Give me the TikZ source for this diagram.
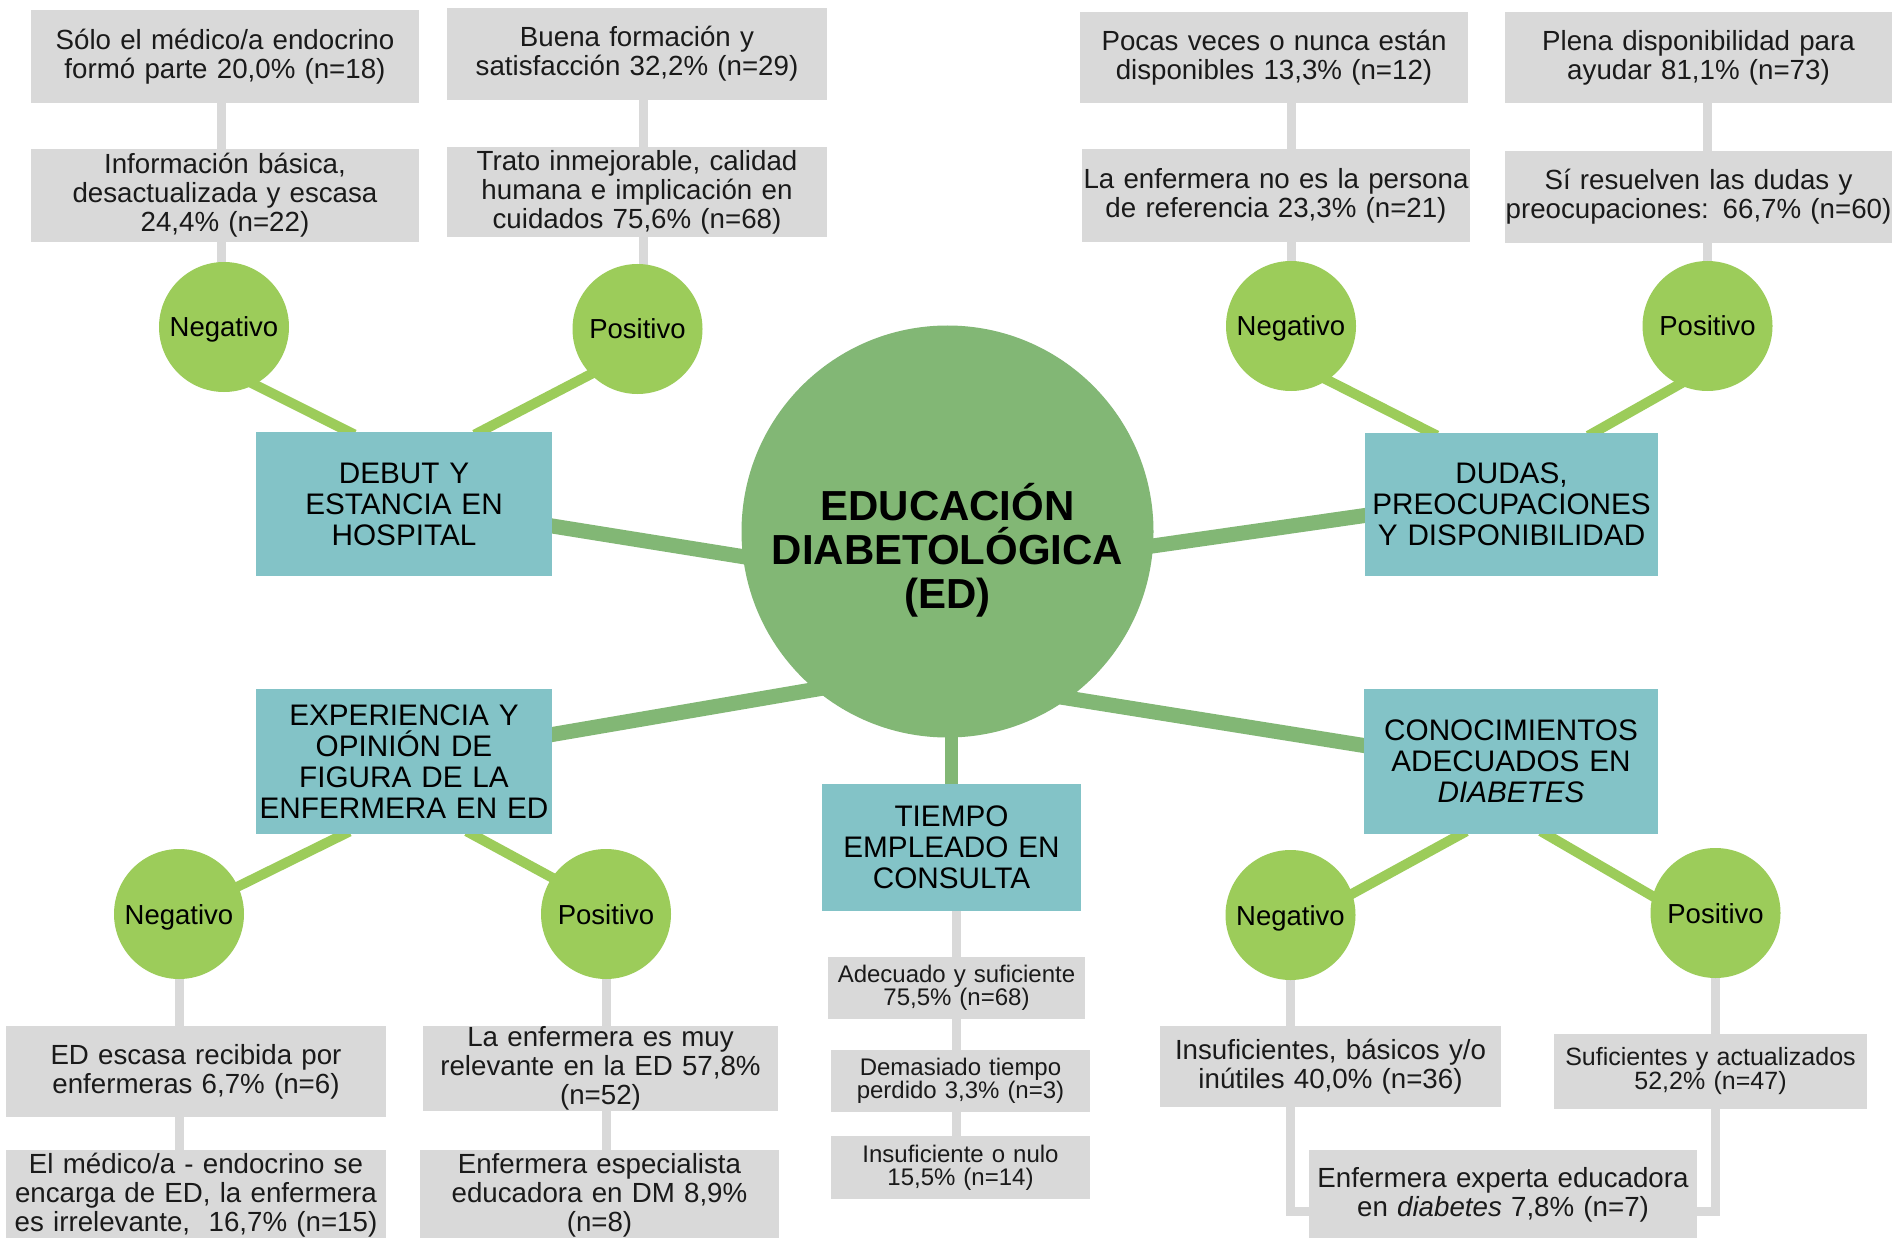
\documentclass[tikz,border=0pt]{standalone}
\usepackage{fontspec}
\setmainfont{Liberation Sans}
\usetikzlibrary{backgrounds,calc}
\definecolor{hubgreen}{HTML}{82B775}
\definecolor{lgreen}{HTML}{9CCC5A}
\definecolor{topicteal}{HTML}{83C3C7}
\definecolor{boxgray}{HTML}{D9D9D9}
\definecolor{txt}{HTML}{1A1A1A}
\tikzset{
  infobox/.style={fill=boxgray, inner sep=0pt, align=center, text=txt, font=\fontsize{27.7}{29}\selectfont},
  smallinfo/.style={infobox, font=\fontsize{24}{23}\selectfont},
  topicbox/.style={fill=topicteal, inner sep=0pt, align=center, text=black, font=\fontsize{29.7}{31}\selectfont},
  valbubble/.style={circle, fill=lgreen, minimum size=130pt, inner sep=0pt, text height=20pt, text depth=0pt, font=\fontsize{27.5}{29}\selectfont, text=black},
  hubcircle/.style={circle, fill=hubgreen, minimum size=412pt, inner sep=0pt},
  hubtext/.style={align=center, inner sep=0pt, text=black, font=\bfseries\fontsize{42}{44}\selectfont},
  hublink/.style={draw=hubgreen, line width=15pt, shorten <=-8pt, shorten >=-8pt},
  sublink/.style={draw=lgreen, line width=10pt, shorten <=-6pt, shorten >=-6pt},
  graylink/.style={draw=boxgray, line width=9pt},
}
\begin{document}
\begin{tikzpicture}[x=1pt,y=-1pt]
\useasboundingbox (0,0) rectangle (1892,1238);

% hub
\node[hubcircle] (hub) at (947.5,531.5) {};
\node[hubtext] (hubtxt) at (947.5,550) {EDUCACIÓN\\DIABETOLÓGICA\\(ED)};

% topics
\node[topicbox, text width=296pt, minimum height=144pt] (DEBUT) at (404,504) {DEBUT Y\\ESTANCIA EN\\HOSPITAL};
\node[topicbox, text width=293pt, minimum height=143pt] (DUDAS) at (1511.5,504.5) {DUDAS,\\PREOCUPACIONES\\Y DISPONIBILIDAD};
\node[topicbox, text width=296pt, minimum height=145pt] (EXP) at (404,761.5) {EXPERIENCIA Y\\OPINIÓN DE\\FIGURA DE LA\\ENFERMERA EN ED};
\node[topicbox, text width=294pt, minimum height=145pt] (CONOC) at (1511,761.5) {CONOCIMIENTOS\\ADECUADOS EN\\\textit{DIABETES}};
\node[topicbox, text width=259pt, minimum height=127pt] (TIEMPO) at (951.5,847.5) {TIEMPO\\EMPLEADO EN\\CONSULTA};

% value bubbles
\node[valbubble] (negTL) at (224,327) {Negativo};
\node[valbubble] (posTL) at (637.5,329) {Positivo};
\node[valbubble] (negTR) at (1291,326) {Negativo};
\node[valbubble] (posTR) at (1707.5,326) {Positivo};
\node[valbubble] (negBL) at (179,914) {Negativo};
\node[valbubble] (posBL) at (606,914) {Positivo};
\node[valbubble] (negBR) at (1290.5,915) {Negativo};
\node[valbubble] (posBR) at (1715.5,913) {Positivo};

% info boxes top-left
\node[infobox, text width=388pt, minimum height=93pt] (A1) at (225,56.5) {Sólo el médico/a endocrino\\formó parte 20,0\% (n=18)};
\node[infobox, text width=388pt, minimum height=93pt] (A2) at (225,195.5) {Información básica,\\desactualizada y escasa\\24,4\% (n=22)};
\node[infobox, text width=380pt, minimum height=92pt] (B1) at (637,54) {Buena formación y\\satisfacción 32,2\% (n=29)};
\node[infobox, text width=380pt, minimum height=90pt] (B2) at (637,192) {Trato inmejorable, calidad\\humana e implicación en\\cuidados 75,6\% (n=68)};

% info boxes top-right
\node[infobox, text width=388pt, minimum height=91pt] (C1) at (1274,57.5) {Pocas veces o nunca están\\disponibles 13,3\% (n=12)};
\node[infobox, text width=388pt, minimum height=93pt] (C2) at (1276,195.5) {La enfermera no es la persona\\de referencia 23,3\% (n=21)};
\node[infobox, text width=387pt, minimum height=91pt] (D1) at (1698.5,57.5) {Plena disponibilidad para\\ayudar 81,1\% (n=73)};
\node[infobox, text width=387pt, minimum height=92pt] (D2) at (1698.5,197) {Sí resuelven las dudas y\\preocupaciones: 66,7\% (n=60)};

% info boxes bottom-left
\node[infobox, text width=380pt, minimum height=91pt] (E1) at (196,1071.5) {ED escasa recibida por\\enfermeras 6,7\% (n=6)};
\node[infobox, text width=380pt, minimum height=90pt] (E2) at (196,1195) {El médico/a - endocrino se\\encarga de ED, la enfermera\\es irrelevante,\ \ 16,7\% (n=15)};
\node[infobox, text width=355pt, minimum height=85pt] (F1) at (600.5,1068.5) {La enfermera es muy\\relevante en la ED 57,8\%\\(n=52)};
\node[infobox, text width=359pt, minimum height=90pt] (F2) at (599.5,1195) {Enfermera especialista\\educadora en DM 8,9\%\\(n=8)};

% info boxes time
\node[smallinfo, text width=257pt, minimum height=62pt] (G1) at (956.5,988) {Adecuado y suficiente\\75,5\% (n=68)};
\node[smallinfo, text width=259pt, minimum height=62pt] (G2) at (960.5,1081) {Demasiado tiempo\\perdido 3,3\% (n=3)};
\node[smallinfo, text width=259pt, minimum height=63pt] (G3) at (960.5,1167.5) {Insuficiente o nulo\\15,5\% (n=14)};

% info boxes bottom-right
\node[infobox, text width=341pt, minimum height=81pt] (H1) at (1330.5,1066.5) {Insuficientes, básicos y/o\\inútiles 40,0\% (n=36)};
\node[infobox, text width=388pt, minimum height=90pt] (H2) at (1503,1195) {Enfermera experta educadora\\en \textit{diabetes} 7,8\% (n=7)};
\node[infobox, font=\fontsize{25}{24}\selectfont, text width=313pt, minimum height=75pt] (I1) at (1710.5,1071.5) {Suficientes y actualizados\\52,2\% (n=47)};

\begin{scope}[on background layer]
\fill[white] (0,0) rectangle (1892,1238);
% hub links
\draw[hublink] ([yshift=-22pt]DEBUT.east) -- (hub.187);
\draw[hublink] ([yshift=-11pt]DUDAS.west) -- (hub.-4);
\draw[hublink] ([yshift=27pt]EXP.east) -- (hub.230);
\draw[hublink] ([yshift=16pt]CONOC.west) -- (hub.-54);
\draw[hublink, line width=13pt] (TIEMPO.north |- hub.center) -- (TIEMPO.north);
% sub links
\draw[sublink] ([xshift=-55pt]DEBUT.north) -- (negTL.-62);
\draw[sublink] ([xshift=76pt]DEBUT.north) -- (posTL.224);
\draw[sublink] ([xshift=-80pt]DUDAS.north) -- (negTR.-56);
\draw[sublink] ([xshift=82pt]DUDAS.north) -- (posTR.244);
\draw[sublink] ([xshift=-60pt]EXP.south) -- (negBL.25);
\draw[sublink] ([xshift=68pt]EXP.south) -- (posBL.146);
\draw[sublink] ([xshift=-50pt]CONOC.south) -- (negBR.19);
\draw[sublink] ([xshift=35pt]CONOC.south) -- (posBR.165);
% gray links
\draw[graylink] ([xshift=-3pt]negTL.center) -- ([xshift=-3pt]negTL |- A1);
\draw[graylink] ([xshift=6pt]posTL.center) -- ([xshift=6pt]posTL |- B1);
\draw[graylink] (negTR.center) -- (negTR |- C1);
\draw[graylink] (posTR.center) -- (posTR |- D1);
\draw[graylink] (negBL.center) -- (negBL |- E2);
\draw[graylink] (posBL.center) -- (posBL |- F2);
\draw[graylink] (G1 |- TIEMPO.center) -- (G1 |- G3.center);
\draw[graylink] (negBR.center) |- ([yshift=-16pt]H2.center);
\draw[graylink] (posBR.center) |- ([yshift=-16pt]H2.center);
\end{scope}
\end{tikzpicture}
\end{document}
